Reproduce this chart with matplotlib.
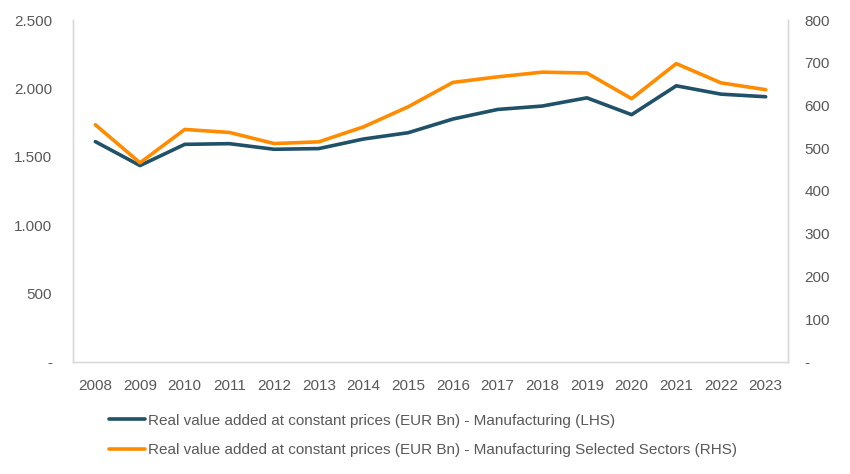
import matplotlib.pyplot as plt
from matplotlib.ticker import FuncFormatter

plt.rcParams["font.family"] = ["Liberation Sans", "DejaVu Sans"]

years = list(range(2008, 2024))
manufacturing = [1611, 1436, 1591, 1596, 1555, 1560, 1630, 1676,
                 1776, 1846, 1871, 1931, 1808, 2019, 1958, 1939]
selected = [555, 466, 544, 537, 511, 515, 550, 597,
            654, 667, 678, 676, 616, 698, 653, 637]

label_lhs = "Real value added at constant prices (EUR Bn) - Manufacturing (LHS)"
label_rhs = "Real value added at constant prices (EUR Bn) - Manufacturing Selected Sectors (RHS)"

BLUE = "#1f5168"
ORANGE = "#ff8c00"
GREY = "#595959"
SPINE = "#d9d9d9"


def dotted_thousands(v, pos):
    if v == 0:
        return "-"
    return f"{int(v):,}".replace(",", ".")


fig = plt.figure(figsize=(8.5, 4.74), dpi=100)
ax = fig.add_axes([73 / 850, 1 - 362 / 474, (788 - 73) / 850, (362 - 20) / 474])
ax2 = ax.twinx()

l1, = ax.plot(years, manufacturing, color=BLUE, linewidth=2.6,
              solid_capstyle="round", label=label_lhs)
l2, = ax2.plot(years, selected, color=ORANGE, linewidth=2.6,
               solid_capstyle="round", label=label_rhs)

ax.set_xlim(2007.5, 2023.5)
ax.set_ylim(0, 2500)
ax2.set_ylim(0, 800)
ax.set_xticks(years)
ax.set_yticks(range(0, 2501, 500))
ax2.set_yticks(range(0, 801, 100))
ax.yaxis.set_major_formatter(FuncFormatter(dotted_thousands))
ax2.yaxis.set_major_formatter(FuncFormatter(dotted_thousands))

for a in (ax, ax2):
    a.spines["top"].set_visible(False)
    for s in ("left", "right", "bottom"):
        a.spines[s].set_color(SPINE)
        a.spines[s].set_linewidth(1.0)
    a.tick_params(length=0, labelsize=11, labelcolor=GREY)
ax.tick_params(axis="y", pad=15)
ax2.tick_params(axis="y", pad=12)
ax.tick_params(axis="x", pad=12)

fig.legend(handles=[l1, l2], loc="upper left", bbox_to_anchor=(95 / 850, 1 - 400 / 474),
           frameon=False, fontsize=11, labelcolor=GREY, handlelength=2.4,
           handletextpad=0.2, labelspacing=1.0)

fig.savefig("out.png", dpi=100)
